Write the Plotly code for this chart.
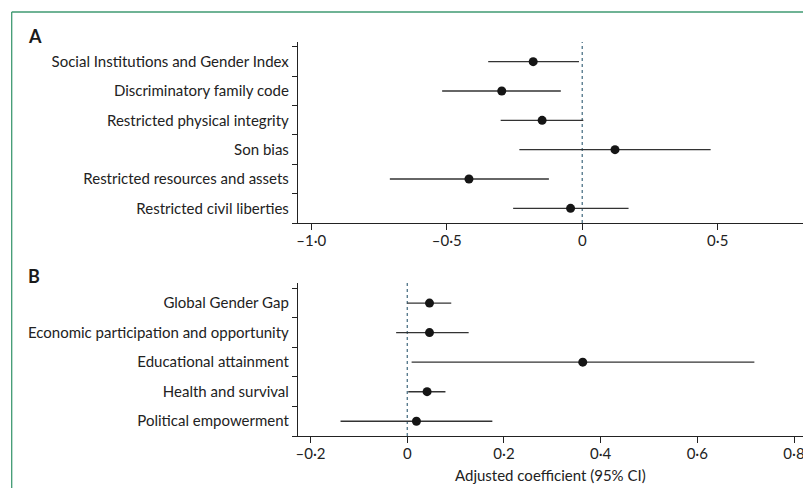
import plotly.graph_objects as go

# ---- Data ----
cats_a = ["Social Institutions and Gender Index", "Discriminatory family code",
          "Restricted physical integrity", "Son bias",
          "Restricted resources and assets", "Restricted civil liberties"]
est_a = [-0.181, -0.297, -0.148, 0.121, -0.418, -0.043]
lo_a = [-0.347, -0.517, -0.301, -0.232, -0.710, -0.255]
hi_a = [-0.012, -0.079, 0.004, 0.474, -0.123, 0.171]

cats_b = ["Global Gender Gap", "Economic participation and opportunity",
          "Educational attainment", "Health and survival", "Political empowerment"]
est_b = [0.046, 0.046, 0.363, 0.041, 0.019]
lo_b = [0.000, -0.023, 0.009, 0.002, -0.138]
hi_b = [0.091, 0.127, 0.718, 0.079, 0.176]

ticks_a = [-1.0, -0.5, 0, 0.5]
ticktext_a = ["\u20131\u00b70", "\u20130\u00b75", "0", "0\u00b75"]
ticks_b = [-0.2, 0, 0.2, 0.4, 0.6, 0.8]
ticktext_b = ["\u20130\u00b72", "0", "0\u00b72", "0\u00b74", "0\u00b76", "0\u00b78"]

# page has an 8px body margin; figure sized to fit the window
OFF = 8
W, H = 811 - OFF, 488 - OFF
L, R = 298 - OFF, 809 - OFF
PW = R - L
FONT = "Lato"
TXT = "#222222"
LINE = "#222222"
GREEN = "#3f9a72"
DASH = "#40687e"

def px_x(p):
    return (p - OFF - L) / PW

def px_y(p):
    return 1 - (p - OFF) / H

fig = go.Figure()

def add_panel(cats, est, lo, hi, xa, ya):
    fig.add_trace(go.Scatter(
        x=est, y=cats, mode="markers", xaxis=xa, yaxis=ya,
        marker=dict(size=9, color="#151515"),
        error_x=dict(type="data", symmetric=False,
                     array=[h - e for h, e in zip(hi, est)],
                     arrayminus=[e - l for e, l in zip(est, lo)],
                     thickness=1.4, width=0, color="#333333"),
        showlegend=False, hoverinfo="x+y"))

add_panel(cats_a, est_a, lo_a, hi_a, "x", "y")
add_panel(cats_b, est_b, lo_b, hi_b, "x2", "y2")

def ydom(top_px, bot_px):
    return [px_y(bot_px), px_y(top_px)]

common_x = dict(showgrid=False, zeroline=False, showline=True, linecolor=LINE, linewidth=1.3,
                ticks="outside", ticklen=6, tickwidth=1.3, tickcolor=LINE,
                tickfont=dict(family=FONT, size=15, color=TXT), automargin=False,
                ticklabelstandoff=-2)
common_y = dict(type="category", showgrid=False, zeroline=False, showline=True, linecolor=LINE,
                linewidth=1.3, ticks="outside", ticklen=5, tickwidth=1.3, tickcolor=LINE,
                tickson="boundaries", tickfont=dict(family=FONT, size=15, color=TXT),
                automargin=False, ticklabelstandoff=5)

fig.update_layout(
    width=W, height=H,
    margin=dict(l=L, r=W - R, t=0, b=0),
    paper_bgcolor="white", plot_bgcolor="white",
    xaxis=dict(common_x, domain=[0, 1], range=[-1.049, 0.837], tickvals=ticks_a,
               ticktext=ticktext_a, anchor="y"),
    yaxis=dict(common_y, domain=ydom(42, 223), categoryorder="array",
               categoryarray=cats_a[::-1], range=[-0.5, 5.67], anchor="x"),
    xaxis2=dict(common_x, domain=[0, 1], range=[-0.226, 0.831], tickvals=ticks_b,
                ticktext=ticktext_b, anchor="y2"),
    yaxis2=dict(common_y, domain=ydom(282.7, 436), categoryorder="array",
                categoryarray=cats_b[::-1], range=[-0.5, 4.69], anchor="x2"),
    shapes=[
        dict(type="line", xref="x", yref="y domain", x0=0, x1=0, y0=0, y1=1,
             line=dict(color=DASH, width=1.2, dash="3px,3px"), layer="below"),
        dict(type="line", xref="x2", yref="y2 domain", x0=0, x1=0, y0=0, y1=1,
             line=dict(color=DASH, width=1.2, dash="3px,3px"), layer="below"),
        dict(type="line", xref="paper", yref="paper", x0=px_x(11.7), x1=px_x(815),
             y0=px_y(12), y1=px_y(12), line=dict(color=GREEN, width=1.3)),
        dict(type="line", xref="paper", yref="paper", x0=px_x(11.7), x1=px_x(11.7),
             y0=px_y(12), y1=px_y(495), line=dict(color=GREEN, width=1.3)),
    ],
    annotations=[
        dict(text="<b>A</b>", xref="paper", yref="paper", x=px_x(26), y=px_y(36),
             xanchor="left", yanchor="middle", showarrow=False,
             font=dict(family=FONT, size=18, color="#1a1a1a")),
        dict(text="<b>B</b>", xref="paper", yref="paper", x=px_x(26), y=px_y(276),
             xanchor="left", yanchor="middle", showarrow=False,
             font=dict(family=FONT, size=18, color="#1a1a1a")),
        dict(text="Adjusted coefficient (95% CI)", xref="paper", yref="paper",
             x=px_x(550), y=px_y(475), xanchor="center", yanchor="middle",
             showarrow=False, font=dict(family=FONT, size=15, color=TXT)),
    ],
)

fig.write_html("out.html")
